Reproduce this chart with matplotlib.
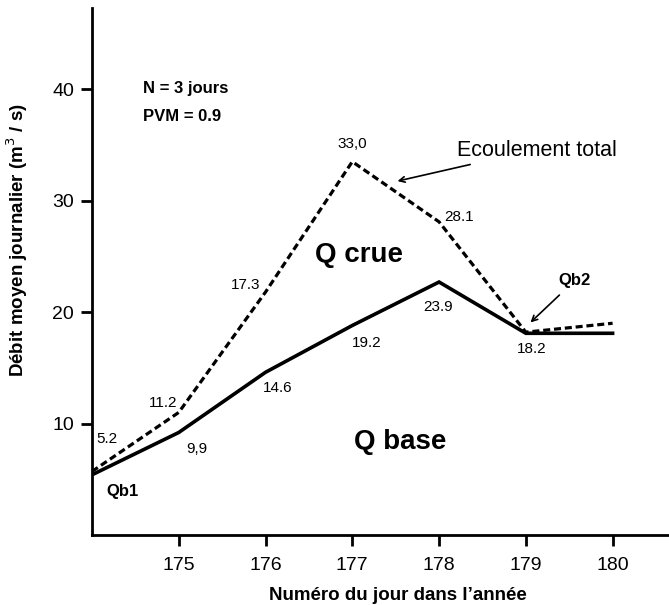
import matplotlib
matplotlib.use("Agg")
import matplotlib.pyplot as plt

plt.rcParams['font.family'] = ['Liberation Sans', 'DejaVu Sans']

# jours et debits (m3/s)
jours = [174, 175, 176, 177, 178, 179, 180]
q_total = [5.7, 11.0, 21.8, 33.5, 28.1, 18.2, 19.0]
q_base = [5.4, 9.2, 14.6, 18.8, 22.7, 18.1, 18.1]

# etiquettes des valeurs (telles qu'ecrites sur la figure)
lab_total = ["5.2", "11.2", "17.3", "33,0", "28.1"]
lab_base = ["9,9", "14.6", "19.2", "23.9", "18.2"]

xticks = [175, 176, 177, 178, 179, 180]
yticks = [10, 20, 30, 40]

fig = plt.figure(figsize=(6.69, 6.05), dpi=100)
ax = fig.add_axes([0.1375, 0.1157, 0.8625, 0.8713])

ax.plot(jours, q_total, color="black", lw=2.3, ls=(0, (2.2, 1.2)))
ax.plot(jours, q_base, color="black", lw=2.6, solid_joinstyle="miter")

ax.set_xlim(174, 180.65)
ax.set_ylim(0, 47.3)
ax.set_xticks(xticks)
ax.set_yticks(yticks)
ax.tick_params(direction="out", length=8, width=2, labelsize=14)
ax.tick_params(axis="x", pad=8)
ax.tick_params(axis="y", pad=5)
for s in ["top", "right"]:
    ax.spines[s].set_visible(False)
for s in ["left", "bottom"]:
    ax.spines[s].set_linewidth(2)

ax.set_xlabel("Numéro du jour dans l’année", fontsize=13.5, fontweight="bold", va="center")
ax.set_ylabel("Débit moyen journalier (m$^3$ / s)", fontsize=13.5, fontweight="bold", va="center")
ax.xaxis.set_label_coords(0.53, -0.114)
ax.yaxis.set_label_coords(-0.13, 0.56)

# etiquettes des points
pos_total = [(174.17, 8.6), (174.82, 11.86), (175.77, 22.46), (176.995, 35.04), (178.23, 28.57)]
for t, (x, y) in zip(lab_total, pos_total):
    ax.text(x, y, t, fontsize=11, ha="center", va="center")
pos_base = [(175.21, 7.73), (176.14, 13.2), (177.17, 17.25), (177.99, 20.5), (179.07, 16.7)]
for t, (x, y) in zip(lab_base, pos_base):
    ax.text(x, y, t, fontsize=11, ha="center", va="center")

ax.text(174.35, 3.86, "Qb1", fontsize=12, fontweight="bold", ha="center", va="center")
ax.text(179.56, 22.8, "Qb2", fontsize=12, fontweight="bold", ha="center", va="center")
ax.annotate("", xy=(179.03, 18.9), xytext=(179.41, 21.7),
            arrowprops=dict(arrowstyle="->", lw=1.2, color="black"))

ax.text(177.08, 25.16, "Q crue", fontsize=20, fontweight="bold", ha="center", va="center")
ax.text(177.55, 8.36, "Q base", fontsize=20, fontweight="bold", ha="center", va="center")

ax.text(179.13, 34.5, "Ecoulement total", fontsize=15.5, ha="center", va="center")
ax.annotate("", xy=(177.49, 31.7), xytext=(178.39, 33.3),
            arrowprops=dict(arrowstyle="->", lw=1.2, color="black"))

ax.text(174.59, 40.07, "N = 3 jours", fontsize=12, fontweight="bold", va="center")
ax.text(174.59, 37.56, "PVM = 0.9", fontsize=12, fontweight="bold", va="center")

fig.savefig("out.png", dpi=100)
